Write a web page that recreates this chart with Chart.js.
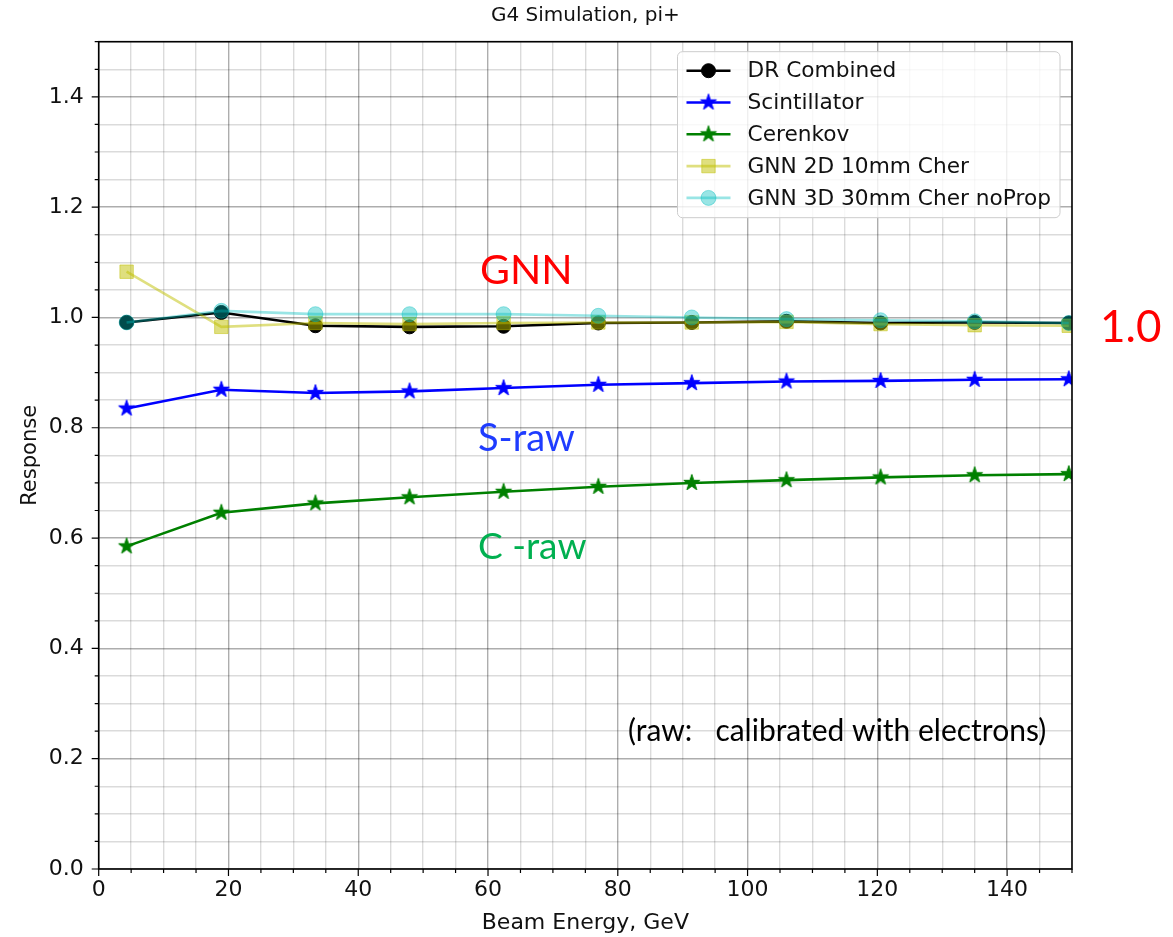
<!DOCTYPE html>
<html>
<head>
<meta charset="utf-8">
<title>G4 Simulation, pi+</title>
<script src="https://cdn.jsdelivr.net/npm/chart.js@4.4.1/dist/chart.umd.min.js"></script>
<style>
  html, body { margin: 0; padding: 0; background: #fff; }
  canvas { display: block; }
</style>
</head>
<body>
<canvas id="response" width="1173" height="937"></canvas>
<script>
// beam energies (GeV) and mean response per configuration
const beamEnergy   = [4.3, 18.9, 33.4, 47.9, 62.4, 77.0, 91.4, 106.0, 120.5, 135.0, 149.5];
const drCombined   = [0.991, 1.009, 0.985, 0.983, 0.984, 0.990, 0.991, 0.993, 0.990, 0.991, 0.990];
const scintillator = [0.835, 0.869, 0.863, 0.866, 0.872, 0.878, 0.881, 0.884, 0.885, 0.887, 0.888];
const cerenkov     = [0.585, 0.646, 0.663, 0.674, 0.684, 0.693, 0.700, 0.705, 0.710, 0.714, 0.716];
const gnn2d        = [1.083, 0.983, 0.990, 0.988, 0.990, 0.991, 0.991, 0.992, 0.988, 0.986, 0.985];
const gnn3d        = [0.991, 1.012, 1.006, 1.006, 1.006, 1.003, 1.000, 0.997, 0.995, 0.993, 0.990];

const seriesLabels = ['DR Combined', 'Scintillator', 'Cerenkov', 'GNN 2D 10mm Cher', 'GNN 3D 30mm Cher noProp'];

const xTicksMajor = [0, 20, 40, 60, 80, 100, 120, 140];
const yTicksMajor = [0.0, 0.2, 0.4, 0.6, 0.8, 1.0, 1.2, 1.4];

const mplFont = '"DejaVu Sans", sans-serif';
const noteFont = 'Lato, "Open Sans", sans-serif';

// filled five-point star, same shape as matplotlib's '*' marker
function starMarker(color, r) {
  const size = Math.ceil(r * 2 + 3);
  const c = document.createElement('canvas');
  c.width = c.height = size;
  const g = c.getContext('2d');
  const cx = size / 2, cy = size / 2, inner = r * 0.382;
  g.beginPath();
  for (let i = 0; i < 10; i++) {
    const rad = i % 2 ? inner : r;
    const a = -Math.PI / 2 + i * Math.PI / 5;
    g.lineTo(cx + rad * Math.cos(a), cy + rad * Math.sin(a));
  }
  g.closePath();
  g.fillStyle = color;
  g.fill();
  g.strokeStyle = color;
  g.lineWidth = 1;
  g.stroke();
  return c;
}

const blueStar  = starMarker('#0000ff', 8.5);
const greenStar = starMarker('#008000', 8.5);

const yellowA = 'rgba(191,191,0,0.5)';
const cyanA   = 'rgba(0,191,191,0.4)';

const pts = vals => vals.map((v, i) => ({ x: beamEnergy[i], y: v }));

const isMajorX = v => Math.round(v) % 20 === 0;
const isMajorY = v => Math.round(v * 100) % 20 === 0;

const lineStyle = { borderWidth: 2.6, tension: 0, fill: false, pointBorderWidth: 1 };

const datasets = [
  { ...lineStyle, label: seriesLabels[0], data: pts(drCombined), order: 4,
    borderColor: '#000', pointBackgroundColor: '#000', pointBorderColor: '#000',
    pointStyle: 'circle', pointRadius: 7 },
  { ...lineStyle, label: seriesLabels[1], data: pts(scintillator), order: 3,
    borderColor: '#0000ff', pointStyle: blueStar, pointRadius: 8.5 },
  { ...lineStyle, label: seriesLabels[2], data: pts(cerenkov), order: 2,
    borderColor: '#008000', pointStyle: greenStar, pointRadius: 8.5 },
  { ...lineStyle, label: seriesLabels[3], data: pts(gnn2d), order: 1,
    borderColor: yellowA, pointBackgroundColor: yellowA, pointBorderColor: yellowA,
    pointStyle: 'rect', pointRadius: 9.5 },
  { ...lineStyle, label: seriesLabels[4], data: pts(gnn3d), order: 0,
    borderColor: cyanA, pointBackgroundColor: cyanA, pointBorderColor: cyanA,
    pointStyle: 'circle', pointRadius: 7.5 },
];

// title over the axes, spines, outward tick marks, legend box and slide notes
const overlay = {
  id: 'overlay',
  afterDraw(chart) {
    const { ctx, chartArea: a, scales } = chart;
    ctx.save();

    ctx.fillStyle = '#111';
    ctx.font = '20px ' + mplFont;
    ctx.textAlign = 'center';
    ctx.textBaseline = 'middle';
    ctx.fillText('G4 Simulation, pi+', (a.left + a.right) / 2, 16);

    // axes frame
    ctx.strokeStyle = '#000';
    ctx.lineWidth = 1.6;
    ctx.strokeRect(a.left, a.top, a.right - a.left, a.bottom - a.top);

    // tick marks (major long, minor short)
    ctx.lineWidth = 1.2;
    ctx.beginPath();
    for (const t of scales.x.ticks) {
      const px = scales.x.getPixelForValue(t.value);
      const len = isMajorX(t.value) ? 7 : 4;
      ctx.moveTo(px, a.bottom);
      ctx.lineTo(px, a.bottom + len);
    }
    for (const t of scales.y.ticks) {
      const py = scales.y.getPixelForValue(t.value);
      const len = isMajorY(t.value) ? 7 : 4;
      ctx.moveTo(a.left, py);
      ctx.lineTo(a.left - len, py);
    }
    ctx.stroke();

    // legend, upper right
    ctx.font = '21.7px ' + mplFont;
    const textW = Math.max(...seriesLabels.map(s => ctx.measureText(s).width));
    const padX = 9, handle = 44, gap = 17, rowH = 31.8;
    const w = padX + handle + gap + textW + padX;
    const h = 166;
    const bx = a.right - 12 - w, by = a.top + 10;
    ctx.beginPath();
    ctx.roundRect(bx, by, w, h, 5);
    ctx.fillStyle = 'rgba(255,255,255,0.8)';
    ctx.fill();
    ctx.strokeStyle = '#cccccc';
    ctx.lineWidth = 1;
    ctx.stroke();

    datasets.forEach((ds, i) => {
      const cy = by + 19 + i * rowH;
      const hx0 = bx + padX, hx1 = hx0 + handle, mx = (hx0 + hx1) / 2;
      ctx.beginPath();
      ctx.moveTo(hx0, cy);
      ctx.lineTo(hx1, cy);
      ctx.strokeStyle = ds.borderColor;
      ctx.lineWidth = ds.borderWidth;
      ctx.stroke();
      if (ds.pointStyle instanceof HTMLCanvasElement) {
        ctx.drawImage(ds.pointStyle, mx - ds.pointStyle.width / 2, cy - ds.pointStyle.height / 2);
      } else {
        ctx.fillStyle = ds.pointBackgroundColor;
        ctx.strokeStyle = ds.pointBorderColor;
        ctx.lineWidth = 1;
        ctx.beginPath();
        if (ds.pointStyle === 'rect') {
          const s = ds.pointRadius * Math.SQRT1_2;
          ctx.rect(mx - s, cy - s, 2 * s, 2 * s);
        } else {
          ctx.arc(mx, cy, ds.pointRadius, 0, Math.PI * 2);
        }
        ctx.fill();
        ctx.stroke();
      }
      ctx.fillStyle = '#111';
      ctx.textAlign = 'left';
      ctx.textBaseline = 'middle';
      ctx.fillText(ds.label, hx1 + gap, cy + 1);
    });

    // slide notes
    ctx.textBaseline = 'middle';
    ctx.textAlign = 'left';
    ctx.fillStyle = '#ff0000';
    ctx.font = '41px ' + noteFont;
    ctx.fillText('GNN', 480, 271);
    ctx.font = '44px ' + noteFont;
    ctx.fillText('1.0', 1100, 328);
    ctx.fillStyle = '#1f3cff';
    ctx.font = '38px ' + noteFont;
    ctx.fillText('S-raw', 478, 439);
    ctx.fillStyle = '#00b050';
    ctx.font = '37px ' + noteFont;
    ctx.fillText('C -raw', 478, 547);
    ctx.fillStyle = '#000';
    ctx.font = '30px ' + noteFont;
    ctx.fillText('(raw:   calibrated with electrons)', 628, 731);

    ctx.restore();
  },
};

new Chart(document.getElementById('response'), {
  type: 'line',
  data: { datasets },
  plugins: [overlay],
  options: {
    responsive: false,
    animation: false,
    layout: { padding: { left: 0, right: 101, top: 41.7, bottom: 0 } },
    plugins: {
      legend: { display: false },
      tooltip: { enabled: false },
      title: { display: false },
    },
    scales: {
      x: {
        type: 'linear',
        min: 0, max: 150,
        afterFit: s => { s.height = 68; },
        border: { display: false },
        grid: {
          drawTicks: false,
          lineWidth: 1.4,
          color: c => isMajorX(c.tick.value) ? 'rgba(0,0,0,0.32)' : 'rgba(0,0,0,0.14)',
        },
        ticks: {
          stepSize: 5,
          maxTicksLimit: 40,
          autoSkip: false,
          maxRotation: 0,
          padding: 8,
          color: '#111',
          font: { family: mplFont, size: 22 },
          callback: v => xTicksMajor.includes(Math.round(v)) && isMajorX(v) ? String(Math.round(v)) : '',
        },
        title: {
          display: true,
          text: 'Beam Energy, GeV',
          color: '#111',
          font: { family: mplFont, size: 22 },
          padding: { top: 0, bottom: 1 },
        },
      },
      y: {
        min: 0, max: 1.5,
        afterFit: s => { s.width = 98.7; },
        border: { display: false },
        grid: {
          drawTicks: false,
          lineWidth: 1.4,
          color: c => isMajorY(c.tick.value) ? 'rgba(0,0,0,0.32)' : 'rgba(0,0,0,0.14)',
        },
        ticks: {
          stepSize: 0.05,
          maxTicksLimit: 40,
          autoSkip: false,
          padding: 15,
          color: '#111',
          font: { family: mplFont, size: 22 },
          callback: v => {
            const r = Math.round(v * 10) / 10;
            return isMajorY(v) && yTicksMajor.includes(r) ? r.toFixed(1) : '';
          },
        },
        title: {
          display: true,
          text: 'Response',
          color: '#111',
          font: { family: mplFont, size: 21 },
          padding: { top: 18, bottom: 0 },
        },
      },
    },
  },
});
</script>
</body>
</html>
